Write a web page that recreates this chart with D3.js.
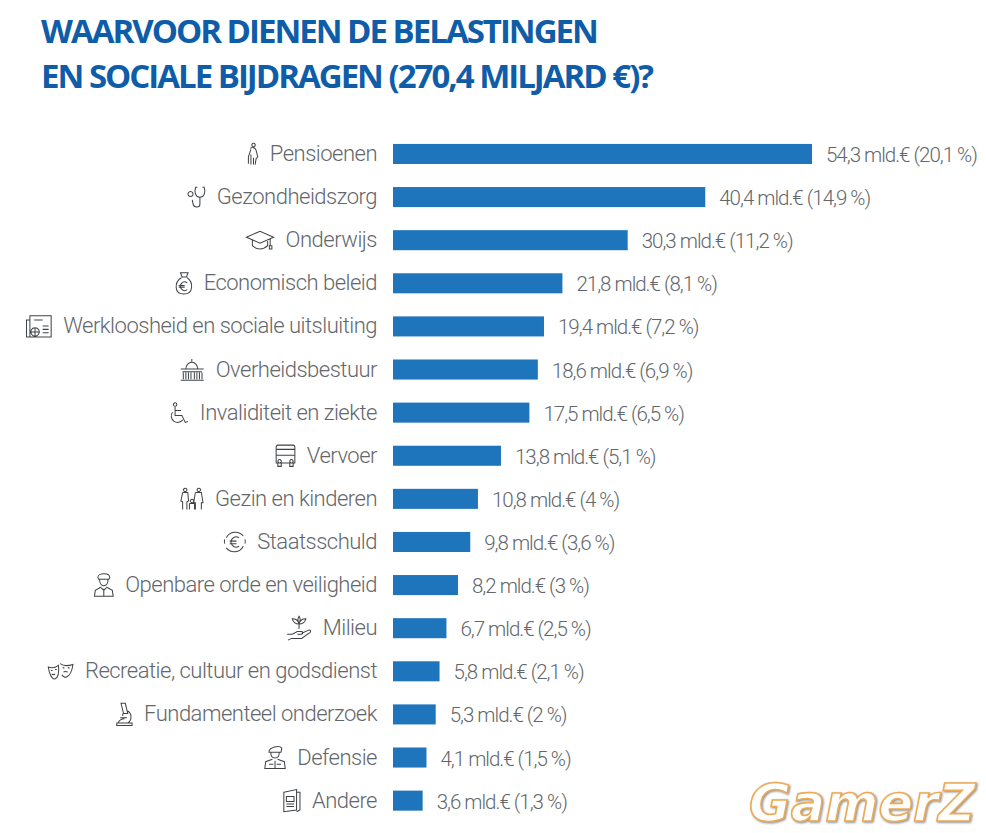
<!DOCTYPE html>
<html>
<head>
<meta charset="utf-8">
<title>Waarvoor dienen de belastingen</title>
<script src="https://cdn.jsdelivr.net/npm/d3@7"></script>
<style>
  html, body { margin: 0; padding: 0; background: #fff; }
  svg { display: block; }
  .title { font-family: "Open Sans", sans-serif; font-weight: 700; font-size: 33px; fill: #0f5da8; letter-spacing: -2px; }
  .label, .value { font-family: Roboto, sans-serif; font-weight: 300; font-size: 22px; fill: #63676b; }
  .label { letter-spacing: -0.5px; }
  .value { font-size: 20.5px; letter-spacing: -1px; }
</style>
</head>
<body>
<svg id="chart"></svg>
<script>
const categories = ["Pensioenen", "Gezondheidszorg", "Onderwijs", "Economisch beleid",
  "Werkloosheid en sociale uitsluiting", "Overheidsbestuur", "Invaliditeit en ziekte", "Vervoer",
  "Gezin en kinderen", "Staatsschuld", "Openbare orde en veiligheid", "Milieu",
  "Recreatie, cultuur en godsdienst", "Fundamenteel onderzoek", "Defensie", "Andere"];
const amounts = [54.3, 40.4, 30.3, 21.8, 19.4, 18.6, 17.5, 13.8, 10.8, 9.8, 8.2, 6.7, 5.8, 5.3, 4.1, 3.6];
const shares = ["20,1", "14,9", "11,2", "8,1", "7,2", "6,9", "6,5", "5,1", "4", "3,6", "3", "2,5", "2,1", "2", "1,5", "1,3"];
const titleLines = ["WAARVOOR DIENEN DE BELASTINGEN", "EN SOCIALE BIJDRAGEN (270,4 MILJARD €)?"];

// line icons, drawn in a 30x30 box
const icons = [
  "M15 3a2 2 0 1 0 .1 0M11 9c3-2 6-1 7 2l2 8-2 2-1 7M12 10l-3 9v8M12 16v12M15 20v8",
  "M16 3h-2c-2 6 0 12 5 12s7-6 5-12h-2M19 15v8c0 4-7 5-8 0l-1-5M8 14a3 3 0 1 0-.1 0",
  "M0 12L16 5l16 7-16 7zM7 15v7c5 5 13 5 18 0v-7M28 14v8M27 22h3v4h-3z",
  "M11 3h9l-2 5h-5zM12 8h7M12 9C4 14 3 28 15 28s11-14 4-19M19 15a5 5 0 1 0 0 8M9 18h7M9 20h7",
  "M5 3h25v25H5zM5 8H1v20h4M11 17a5 5 0 1 0 .1 0M20 15h7M20 19h7M20 23h7M6 22h10M11 17v10M10 8h10",
  "M15 2v4M8 14c0-4 3-8 7-8s7 4 7 8zM2 14h27M4 17h23M5 18v8M8 18v8M11 18v8M14 18v8M18 18v8M21 18v8M24 18v8M27 18v8M2 27h27",
  "M11 2a2 2 0 1 0 .1 0M11 7v10h8l4 8 3-1M11 11h7M8 13a7.500 7.500 0 1 0 12 9",
  "M5 3h18c2 0 2 2 2 3v18H3V6c0-1 0-3 2-3zM3 15h22M3 8h22M7 20a2 2 0 1 0 .1 0M21 20a2 2 0 1 0 .1 0M5 24v4h4v-4M19 24v4h4v-4",
  "M7 3a2 2 0 1 0 .1 0M4 8h6l1 10-2 1v9M4 8L2 18l2 1v9M23 3a2 2 0 1 0 .1 0M19 8h7l2 12h-2v8M19 8l-2 12h2v8M15 16a2 2 0 1 0 .1 0M12 21h6v7M12 21v7",
  "M25 8a12 12 0 0 0-20 2M5 22a12 12 0 0 0 20-2M3 17a12 12 0 0 1 0-5M27 12a12 12 0 0 1 0 5M20 10a6 6 0 1 0 0 10M9 14h8M9 17h8",
  "M8 7c0-6 14-6 14 0l-1 2H9zM10 9c0 10 10 10 10 0M12 18l-7 4-1 7h22l-1-7-7-4M15 20v9M12 19l3 3 3-3",
  "M15 16V8M15 10c-5 0-7-2-8-6 4 0 7 2 8 6zM15 10c5 0 7-2 8-6-4 0-7 2-8 6zM15 9c-2-3-2-5 0-8 2 3 2 5 0 8zM1 22h6l6-3h5c2 0 2 3 0 3h-5M18 21l9-4c2 0 2 2 1 3l-10 7H6l-4 2",
  "M1 8c5 2 8 1 12-2 1 9 0 14-4 16-4 1-7-7-8-14zM15 4c4 3 9 3 15 1-1 8-3 13-8 15-2 0-4-1-5-3M4 12h2M9 11h2M5 16c1 1 3 1 4 0M18 9h2M24 9h2M19 14c1-1 3-1 5 0",
  "M6 2h5l3 12H9zM8 14v3M14 11c5 3 5 11 0 14M1 28h18v-3H1zM3 25c0-3 4-5 7-5M5 19h8",
  "M8 9c0-5 12-8 15-4l-1 5H8zM10 10c0 9 10 9 10 0M12 18l-8 3-1 8h24l-1-8-8-3M15 20v9M8 24h5M17 24h5",
  "M5 5l15-3v24L5 28zM20 5h4v21l-4 2M8 10h9v6H8zM8 19h9M8 22h9"
];

const width = 986, height = 833;
const svg = d3.select("#chart").attr("width", width).attr("height", height);

const barStart = 393;
const x = d3.scaleLinear().domain([0, 54.3]).range([395, 812]);
const y = d3.scaleBand().domain(categories).range([132.3, 822.3]).paddingInner(0.535).paddingOuter(0.27);

svg.selectAll(".title").data(titleLines).enter().append("text")
  .attr("class", "title")
  .attr("x", 41)
  .attr("y", (d, i) => 43 + i * 44.5)
  .text(d => d);

const rows = svg.selectAll(".row").data(categories).enter().append("g").attr("class", "row");

rows.append("rect")
  .attr("x", barStart)
  .attr("y", d => y(d))
  .attr("width", (d, i) => x(amounts[i]) - barStart)
  .attr("height", y.bandwidth())
  .attr("fill", "#1f75bc");

const labels = rows.append("text")
  .attr("class", "label")
  .attr("x", 377)
  .attr("y", d => y(d) + y.bandwidth() / 2 + 7)
  .attr("text-anchor", "end")
  .text(d => d);

rows.append("text")
  .attr("class", "value")
  .attr("x", (d, i) => x(amounts[i]) + 14)
  .attr("y", d => y(d) + y.bandwidth() / 2 + 8)
  .text((d, i) => String(amounts[i]).replace(".", ",") + " mld.€ (" + shares[i] + " %)");

// icon sits left of its label, right edge 12px off the measured text start
labels.each(function (d, i) {
  const w = this.getComputedTextLength();
  const icon = svg.append("path")
    .attr("d", icons[i])
    .attr("fill", "none")
    .attr("stroke", "#3f4245")
    .attr("stroke-width", 1.2);
  const box = icon.node().getBBox();
  const s = 0.85;
  const tx = 377 - w - 12 - (box.x + box.width) * s;
  const ty = y(d) + y.bandwidth() / 2 - (box.y + box.height / 2) * s;
  icon.attr("transform", "translate(" + tx + "," + ty + ") scale(" + s + ")");
});

// watermark in the corner
svg.append("text")
  .attr("x", 749).attr("y", 821)
  .attr("font-family", "'DejaVu Sans', sans-serif")
  .attr("font-weight", 700)
  .attr("font-style", "italic")
  .attr("font-size", 51)
  .attr("fill", "#fff")
  .attr("stroke", "#eeaa55")
  .attr("stroke-width", 1.6)
  .style("filter", "drop-shadow(1px 1px 1px rgba(90,90,90,0.7))")
  .text("GamerZ");
</script>
</body>
</html>
